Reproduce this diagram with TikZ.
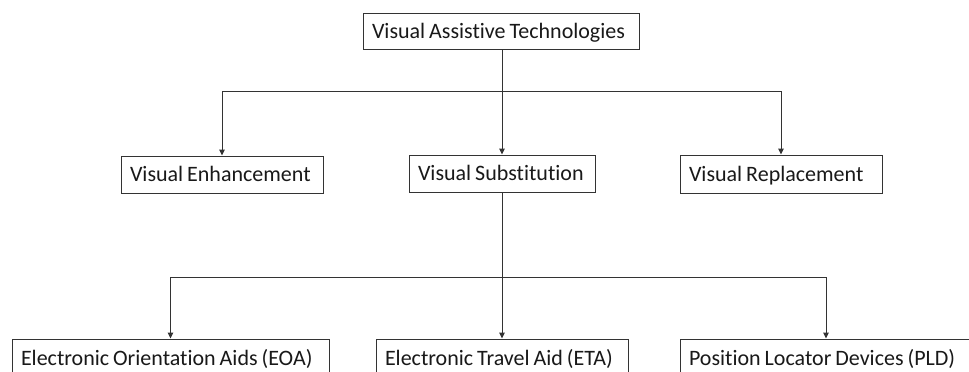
\documentclass[tikz,border=0pt]{standalone}
\usepackage{fontspec}
\setmainfont{Carlito}[RawFeature={-liga;-dlig;-clig}, WordSpace=0.8]
\usetikzlibrary{arrows.meta}
\begin{document}
\begin{tikzpicture}[x=1pt,y=-1pt,
  box/.style={draw=black!80, line width=1pt, fill=white, inner xsep=9pt, inner ysep=0pt,
    text height=14pt, text depth=0pt,
    font=\fontsize{22}{24}\selectfont, text=black!90},
  conn/.style={draw=black!80, line width=1pt},
  arr/.style={conn, -{Triangle[length=6pt,width=5.5pt]}}]
\newcommand{\lbox}[2]{\makebox[#1][l]{#2}}
\useasboundingbox (0,0) rectangle (969,372);
\clip (0,0) rectangle (969,372);
\node[box, minimum height=36pt] (top) at (501,31) {\lbox{258pt}{Visual Assistive Technologies}};
\node[box, minimum height=37pt] (enh) at (222,174.5) {\lbox{184pt}{Visual Enhancement}};
\node[box, minimum height=37pt] (sub) at (502,173.5) {\lbox{168pt}{Visual Substitution}};
\node[box, minimum height=38pt] (rep) at (781,174) {\lbox{184pt}{Visual Replacement}};
\node[box, minimum height=38pt] (eoa) at (170.5,358) {\lbox{299pt}{Electronic Orientation Aids (EOA)}};
\node[box, minimum height=38pt] (eta) at (502,358) {\lbox{234pt}{Electronic Travel Aid (ETA)}};
\node[box, minimum height=38pt] (pld) at (826,358) {\lbox{274pt}{Position Locator Devices (PLD)}};
\coordinate (j1) at (502,91);
\coordinate (j2) at (502,277);
\draw[conn] (top.south -| j1) -- (j1);
\draw[arr] (j1) -| (enh.north);
\draw[arr] (j1) -- (sub.north);
\draw[arr] (j1) -| (rep.north);
\draw[conn] (sub.south) -- (j2);
\draw[arr] (j2) -| (eoa.north);
\draw[arr] (j2) -- (eta.north);
\draw[arr] (j2) -| (pld.north);
\end{tikzpicture}
\end{document}
